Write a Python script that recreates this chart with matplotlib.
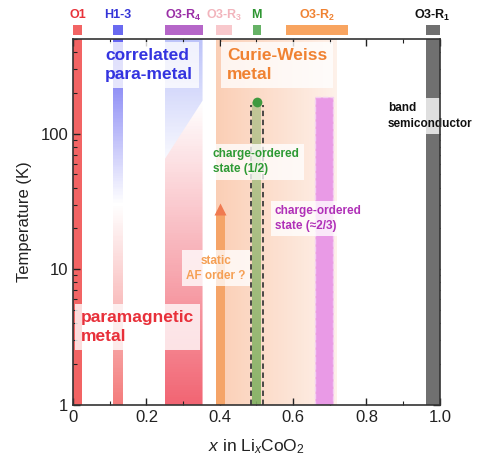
import numpy as np
import matplotlib
matplotlib.use("Agg")
import matplotlib.pyplot as plt
import matplotlib.colors as mcolors
from matplotlib.collections import PolyCollection
from matplotlib.patches import Polygon, Rectangle
from matplotlib.transforms import blended_transform_factory
from matplotlib.ticker import MultipleLocator, FuncFormatter, LogLocator, NullFormatter

# 相图数据 (x in LixCoO2, T in K)
phase_names = ["O1", "H1-3", r"O3-R$_\mathbf{4}$", r"O3-R$_\mathbf{3}$", "M",
               r"O3-R$_\mathbf{2}$", r"O3-R$_\mathbf{1}$"]
phase_x_start = [0.0, 0.11, 0.25, 0.39, 0.49, 0.58, 0.962]
phase_x_end = [0.025, 0.135, 0.353, 0.432, 0.512, 0.75, 1.0]

t_range = [1, 500]
h13_cross_t = 30            # blue -> red in H1-3 strip
r4_cut_x = [0.25, 0.353]    # diagonal in O3-R4 region
r4_cut_t = [65, 175]
cw_x = [0.39, 0.72]         # Curie-Weiss metal region
af_x = [0.39, 0.413]        # static AF order bar
af_t = 30
co_half_x = [0.489, 0.513]  # charge order 1/2
co_half_t = 170
co_23_x = [0.661, 0.71]     # charge order ~2/3
co_23_t = 185

# 颜色
phase_bar_colors = ["#f26464", "#6a6af0", "#b566c8", "#f8c8cc", "#66b266", "#f8a460", "#707070"]
phase_text_colors = ["#e8323a", "#3434d8", "#9a2ea6", "#f2b4bc", "#2e9632", "#f08232", "#111111"]


def vgrad(ax, x0, x1, t0, t1, color, a0, a1, n=120, clip=None, zorder=1):
    """
    竖直方向渐变 (log T)
    """
    ts = np.logspace(np.log10(t0), np.log10(t1), n + 1)
    al = np.linspace(a0, a1, n)
    polys = [[(x0, ts[i]), (x1, ts[i]), (x1, ts[i + 1]), (x0, ts[i + 1])] for i in range(n)]
    fc = [mcolors.to_rgba(color, a) for a in al]
    pc = PolyCollection(polys, facecolors=fc, edgecolors="none", antialiaseds=False, zorder=zorder)
    ax.add_collection(pc)
    if clip is not None:
        pc.set_clip_path(clip)
    return pc


def hgrad(ax, x0, x1, t0, t1, color, a0, a1, n=120, zorder=1):
    """
    水平方向渐变
    """
    xs = np.linspace(x0, x1, n + 1)
    al = np.linspace(a0, a1, n)
    polys = [[(xs[i], t0), (xs[i + 1], t0), (xs[i + 1], t1), (xs[i], t1)] for i in range(n)]
    fc = [mcolors.to_rgba(color, a) for a in al]
    pc = PolyCollection(polys, facecolors=fc, edgecolors="none", antialiaseds=False, zorder=zorder)
    ax.add_collection(pc)
    return pc


plt.rcParams["font.family"] = ["Liberation Sans", "DejaVu Sans"]
plt.rcParams["mathtext.fontset"] = "custom"
plt.rcParams["mathtext.rm"] = "Liberation Sans"
plt.rcParams["mathtext.it"] = "Liberation Sans:italic"
plt.rcParams["mathtext.bf"] = "Liberation Sans:bold"

fig = plt.figure(figsize=(4.78, 4.57), dpi=100)
ax = fig.add_axes([0.153, 0.114, 0.767, 0.801])
ax.set_yscale("log")
ax.set_xlim(0, 1.0)
ax.set_ylim(t_range[0], t_range[1])
t0, t1 = t_range

# O1: 红色
ax.fill_between(phase_x_start[0:1] + phase_x_end[0:1], t0, t1, color=phase_bar_colors[0], lw=0, zorder=1)

# H1-3: 上蓝下红
vgrad(ax, phase_x_start[1], phase_x_end[1], h13_cross_t, t1, "#4848f0", 0.0, 0.85)
vgrad(ax, phase_x_start[1], phase_x_end[1], t0, h13_cross_t, "#f05050", 0.75, 0.0)

# O3-R4: 斜线分割
xa, xb = phase_x_start[2], phase_x_end[2]
top_poly = Polygon([(xa, t1), (xb, t1), (r4_cut_x[1], r4_cut_t[1]), (r4_cut_x[0], r4_cut_t[0])],
                   closed=True, transform=ax.transData)
bot_poly = Polygon([(r4_cut_x[0], r4_cut_t[0]), (r4_cut_x[1], r4_cut_t[1]), (xb, t0), (xa, t0)],
                   closed=True, transform=ax.transData)
vgrad(ax, xa, xb, r4_cut_t[0], t1, "#5a6af0", 0.04, 0.4, clip=top_poly)
vgrad(ax, xa, xb, t0, r4_cut_t[1], "#f05060", 0.88, 0.0, clip=bot_poly)

# Curie-Weiss metal 区域
hgrad(ax, cw_x[0], cw_x[1], t0, t1, "#f58c50", 0.42, 0.12)

# static AF order
ax.fill_between(af_x, t0, af_t * 0.88, color="#f5a468", lw=0, zorder=2)
ax.plot([np.mean(af_x)], [af_t * 0.92], marker="^", ms=8, color="#f07a50", mec="none", zorder=2)

# charge-ordered (1/2)
vgrad(ax, co_half_x[0], co_half_x[1], t0, co_half_t, "#7fb060", 0.9, 0.45, zorder=2)
ax.plot([np.mean(co_half_x)], [co_half_t], marker="o", ms=7, color="#3f9a3f", mec="none", zorder=2)
for xv in [co_half_x[0] - 0.005, co_half_x[1] + 0.005]:
    ax.plot([xv, xv], [t0, co_half_t * 0.95], ls=(0, (3, 2)), lw=1.3, color="#3c3c3c", zorder=3)

# charge-ordered (~2/3)
ax.add_patch(Rectangle((co_23_x[0], t0), co_23_x[1] - co_23_x[0], co_23_t - t0,
                       facecolor="#e99ae6", edgecolor="#f4d0f2", lw=1.0, ls="--", zorder=2))

# O3-R1: 灰色
ax.fill_between([phase_x_start[6], phase_x_end[6]], t0, t1, color=phase_bar_colors[6], lw=0, zorder=2)

# 文字
box = dict(boxstyle="square,pad=0.35", facecolor="white", edgecolor="none", alpha=0.78)
ax.text(0.087, 320, "correlated\npara-metal", color="#3434e0", fontsize=12.5, fontweight="bold",
        va="center", ha="left", bbox=box, zorder=5, linespacing=1.3)
ax.text(0.42, 320, "Curie-Weiss\nmetal", color="#f08232", fontsize=12.5, fontweight="bold",
        va="center", ha="left", bbox=box, zorder=5, linespacing=1.3)
ax.text(0.858, 135, "band\nsemiconductor", color="#111111", fontsize=8.5, fontweight="bold",
        va="center", ha="left", bbox=box, zorder=5, linespacing=1.35)
ax.text(0.381, 62, "charge-ordered\nstate (1/2)", color="#2e9a34", fontsize=8.5, fontweight="bold",
        va="center", ha="left", bbox=box, zorder=5, linespacing=1.35)
ax.text(0.55, 23.7, "charge-ordered\nstate (\u22482/3)", color="#b030b8", fontsize=8.5, fontweight="bold",
        va="center", ha="left", bbox=box, zorder=5, linespacing=1.35)
ax.text(0.39, 10.2, "static\nAF order ?", color="#f5a055", fontsize=8.5, fontweight="bold",
        va="center", ha="center", bbox=box, zorder=5, linespacing=1.35)
ax.text(0.021, 3.75, "paramagnetic\nmetal", color="#e8303a", fontsize=12.5, fontweight="bold",
        va="center", ha="left", bbox=box, zorder=5, linespacing=1.3)

# 顶部相标记
trans = blended_transform_factory(ax.transData, ax.transAxes)
for name, xs, xe, bc, tc in zip(phase_names, phase_x_start, phase_x_end, phase_bar_colors, phase_text_colors):
    ax.add_patch(Rectangle((xs, 1.011), xe - xs, 0.027, transform=trans, facecolor=bc,
                           edgecolor="none", clip_on=False))
    ax.text((xs + xe) / 2, 1.064, name, transform=trans, ha="center", va="center", color=tc,
            fontsize=9, fontweight="bold", clip_on=False)

# 坐标轴
ax.xaxis.set_major_locator(MultipleLocator(0.2))
ax.xaxis.set_minor_locator(MultipleLocator(0.1))
ax.xaxis.set_major_formatter(FuncFormatter(lambda v, p: "0" if abs(v) < 1e-9 else "%.1f" % v))
ax.yaxis.set_major_locator(LogLocator(base=10))
ax.yaxis.set_minor_locator(LogLocator(base=10, subs=np.arange(2, 10)))
ax.yaxis.set_major_formatter(FuncFormatter(lambda v, p: "%g" % v))
ax.yaxis.set_minor_formatter(NullFormatter())
ax.tick_params(which="both", direction="in", top=True, right=True, labelsize=12, colors="#222222")
ax.tick_params(which="major", length=5, width=1)
ax.tick_params(which="minor", length=3, width=0.8)
for sp in ax.spines.values():
    sp.set_linewidth(1.2)
    sp.set_color("#333333")
    sp.set_zorder(6)
ax.set_xlabel("$x$ in Li$_x$CoO$_2$", fontsize=12.5, color="#222222", labelpad=9)
ax.set_ylabel("Temperature (K)", fontsize=12, color="#222222", labelpad=6)

plt.savefig("out.png", dpi=100)
plt.close()
